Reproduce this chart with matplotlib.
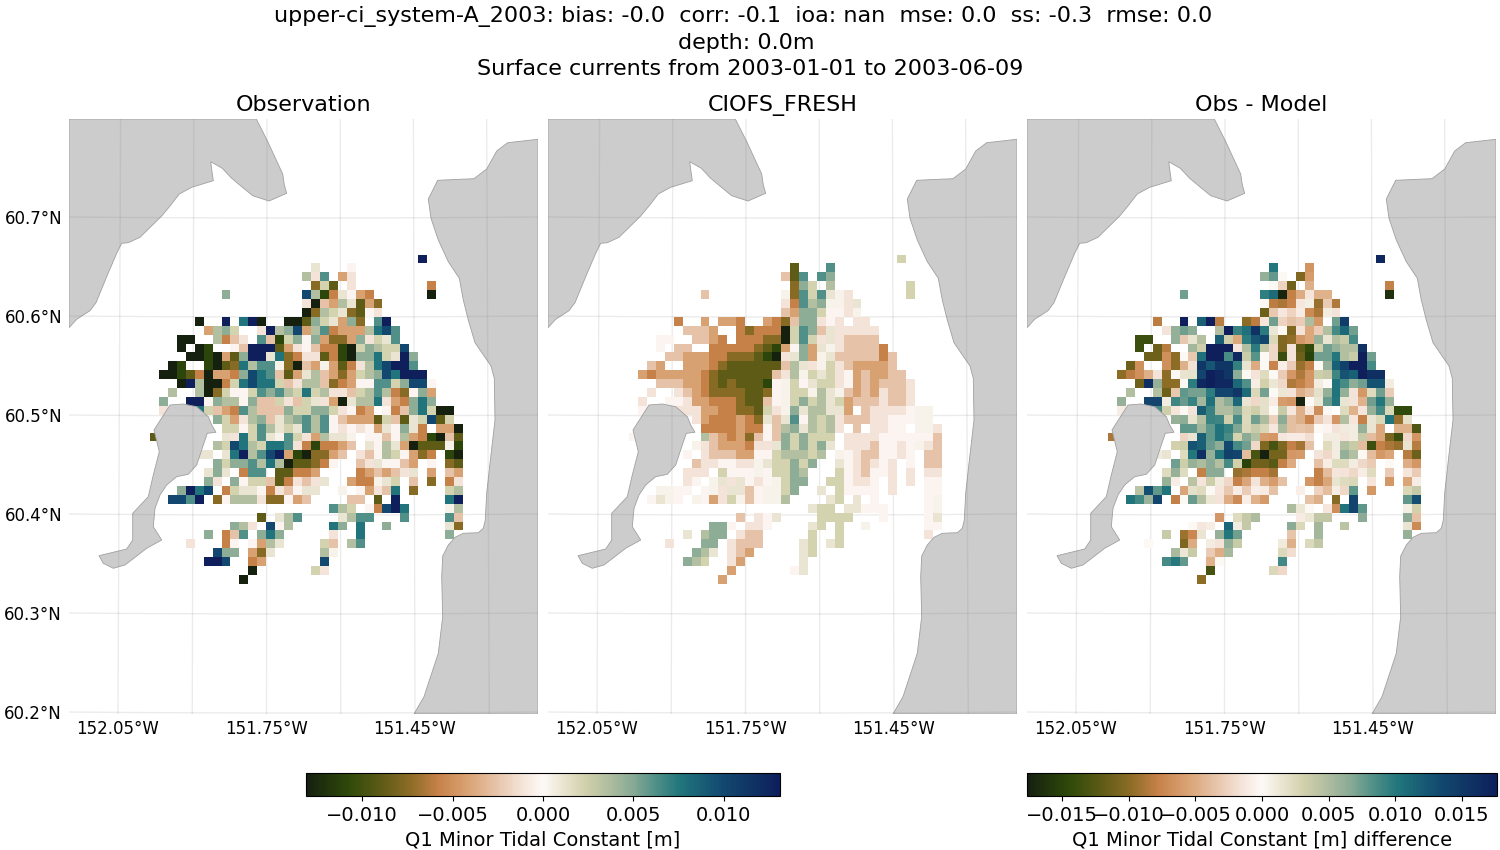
import numpy as np
import matplotlib
matplotlib.use("Agg")
import matplotlib.pyplot as plt
from matplotlib.colors import LinearSegmentedColormap, Normalize
from matplotlib.cm import ScalarMappable
from matplotlib.patches import Polygon

# value of each letter code in the grids below, in metres
LEVELS = {
    'Z': -0.0175, 'A': -0.0140, 'B': -0.0110, 'C': -0.0090, 'D': -0.0075, 'E': -0.0058,
    'F': -0.0042, 'G': -0.0026, 'H': -0.0012, 'I': -0.0003,
    'i': 0.0004, 'h': 0.0011, 'g': 0.0022, 'f': 0.0035, 'e': 0.0048,
    'd': 0.0062, 'c': 0.0076, 'b': 0.0100, 'a': 0.0135, 'z': 0.0190,
}

OBS_ROWS = [
    "..... ..... ..... ..... ..... ..... z....",
    "..... ..... ..... ...h. ..I.. ..... .....",
    "..... ..... ..... ..fHd .FH.. ..... .....",
    "..... ..... ..... ...Dg C.H.. ..... .E...",
    "..... ...e. ..... ..bfB EhIFE ..... .A...",
    "..... ..... ..... ..HAG FfhCF D.... .....",
    "..... ..... ..... ..ADf ghDCI H.... .....",
    "..... A..a. caA.. AACeg hFeD. da... .....",
    "..... .Ffeg ..Haf ebFfd EFFFf cbd.. .....",
    "...AA ..fEG H.dGB geIeF DDFeH ghd.. .....",
    "...A. AB..I GaaaC FHIGE EBAge fggb. .....",
    "....A ABAFC eaahc DEHHC EBAee cghae .....",
    "..AB. .BACD cfddi DAGFi FCEHf cbaad .....",
    ".AABC EAFFE ebcdG CFhfG FDFgf ebcaa a....",
    "...Aa fAAEg cbccg GHffG DEFII ddgeb bI...",
    "..f.. fADgI Igded fgcgf HHGgf dfEDI eF...",
    ".e..a aIeff IeGGg HGghH FAhff cHFEe ce...",
    ".H... cgGFE dfGGG eggee gHIEF .IEGe cgAA.",
    "..... ..egF HfeGh fedfd IGFFF CgGCh gbCg.",
    "..... ...gg Igdfh ghdfd IHIHI FhIeh E.FFA",
    "C.... ...hH cgdhi dgHFf hhi.I IGIfF EBAGC",
    "..... ..fgb cfgcc dHEBE EFG.h IfhFA CCCiB",
    "..... hh.hc afdba FBADD FG.HG IfgIF DE.BA",
    "..... ..ege edfcf ACCDE I..GH hIIGF .I.DC",
    "..... .heh. Edd.C CEEF. ...EF GFGHh .F.GF",
    "..... .eH.e IggGC EHGHh ..FEE ihg.G .D.EH",
    "...ea cb.Eg hhIEH GIhh. .i.IF HGc.D ...gf",
    "..bbd a.DIf ffHDD IFG.. ..GG. C.a.. ...ca",
    "..... ..... ..... ..... dfg.I Ebac. ...if",
    "..... ..... ..C.h fd... .hfdd ...d. ...dG",
    "..... ....e fH.bI f.... ce.c. .e... ...hD",
    "..... .e.EG d.ece ..... H..c. ..... ...e.",
    "....H ...EI .IFfh ....g G.fd. ..... .....",
    "..... ..bee .FDh. ....f i.... ..... .....",
    "..... .aab. .EF.. ....b ..... ..... .....",
    "..... ..... .Z... ...gH ..... ..... .....",
    "..... ..... A.... ..... ..... ..... .....",
]

MODEL_ROWS = [
    "..... ..... ..... ..... ..... ..... g....",
    "..... ..... ..... ...C. ..d.. ..... .....",
    "..... ..... ..... ..GCd .de.. ..... .....",
    "..... ..... ..... ...De g.f.. ..... .g...",
    "..... ...G. ..... ..iDd gdhiH ..... .g...",
    "..... ..... ..... ..HEd feiiH h.... .....",
    "..... ..... ..... ..GFe egIIH i.... .....",
    "..... E..F. FFE.. FEDGe eHIH. HH... .....",
    "..... .GGGF ..EDE EEAgd eGhHH HHH.. .....",
    "...II ..GGF E.EEE DDAgd gHhHG GGG.. .....",
    "...I. GG..E EEEED CBFIe FhiHG GGGE. .....",
    "....G GFFFE EDDDC BAHhe FihGG GGGEG .....",
    "..GF. .FFFE DCCCC CCGfh HigHG FFFFG .....",
    ".FEFF FFFED CCCCC CGHfi ghgHI FGFFG G....",
    "...GG GFFED CDCCC BIigI hggHI FGFGG GH...",
    "..H.. HGFED DDDCC DIigg ifhiG FGFHG GH...",
    ".H..I IHFFE EEDCC GIige gfhgF GGGHG GH...",
    ".I... HHHFF EEDDC gHieh ffhhF .GHHH HIii.",
    "..... ..HFE EEFED hGhdI fgfHG GGHHI IIii.",
    "..... ...EE EEFEE IGfeh fgfH. G.HHI I.iiH",
    "I.... ...fG FEFDG IGege ggg.H HHHII IIIIG",
    "..... ..iHG FFFEH Hhege geh.H HHGII HIiHG",
    "..... .I.HG GGFFI Igfff gf.iI HGGII HI.GG",
    "..... ..GHH IIHHi hggeg e..hI HGHIH .I.GG",
    "..... .HHH. gIIIi Iggef ...gI HGIIH .H.HH",
    "..... .HI.i hHhIH Iigee ..ggI HHI.H .H.II",
    "...ii II.Ii HhhGI iige. .h.gI III.H ...II",
    "..Ihi I.iIF HgiGI iif.. ..hg. h.I.. ...Ii",
    "..... ..... ..... ..... hgg.h hIII. ...Ii",
    "..... ..... ..G.H Ih... .gggg ...I. ...Ih",
    "..... ....e eI.HH I.... hg.g. .i... ...II",
    "..... .h.fe e.HGG ..... g..g. ..... ...H.",
    "....H ...ee .HGGG ....h g.hg. ..... .....",
    "..... ..efh .HGF. ....h g.... ..... .....",
    "..... .efg. .HF.. ....h ..... ..... .....",
    "..... ..... .F... ...Ih ..... ..... .....",
    "..... ..... F.... ..... ..... ..... .....",
]

# coast outlines, measured in pixels of the left panel
COAST_NW = [(69, 119), (256.3, 119), (267.3, 140.7), (282.7, 174), (284.3, 185), (286.7, 193.3),
            (269, 201), (252.7, 195.7), (241.7, 186.7), (231.7, 178.3), (222.3, 168.3), (210.7, 161.7),
            (212, 171.7), (213.3, 180.7), (191.7, 187.3), (179.3, 194), (170, 206), (161.7, 216),
            (140, 237.3), (128.3, 242.7), (121.7, 243.3), (116.7, 253.3), (106.7, 276.7), (96, 302.7),
            (90, 310.7), (76.7, 319.3), (69, 327.7)]
COAST_E = [(538, 139.3), (507.7, 142.7), (496.7, 151), (486.7, 169), (474, 178.7), (460, 179.3),
           (437.7, 180.3), (428.3, 199), (431, 218.3), (438.3, 240), (448.3, 261.7), (459.3, 278.3),
           (463.3, 300), (468.3, 320), (475, 342.7), (491, 366), (494.3, 378.3), (495, 420),
           (490, 463.3), (486.7, 493), (485.3, 520), (483.3, 528.3), (478.3, 532.7), (463.3, 533.3),
           (455, 537.3), (448.3, 545), (442.7, 556), (441.7, 576.7), (442.7, 616.7), (438.3, 653.3),
           (424, 696.7), (414, 714), (538, 714)]
COAST_ISLAND = [(170, 405), (183.3, 404), (196.7, 406.7), (208.3, 416.7), (211.7, 425), (216, 432.3),
                (207.3, 433.3), (203.3, 445), (196.7, 465), (188.3, 474.3), (176.7, 476.7), (166.7, 485),
                (160, 495), (155, 508.3), (153.3, 526.7), (161.7, 540), (146.7, 548.3), (125, 565),
                (113.3, 568.3), (103.3, 563.3), (99, 555.7), (126.7, 549), (132.7, 540), (132.7, 513.3),
                (148.3, 496.7), (153.3, 475), (159.3, 451.7), (154, 430)]

LON_TICKS = [-152.05, -151.75, -151.45]
LON_TICK_LABELS = ["152.05°W", "151.75°W", "151.45°W"]
LON_GRID = [-152.05, -151.90, -151.75, -151.60, -151.45, -151.30]
LAT_TICKS = [60.2, 60.3, 60.4, 60.5, 60.6, 60.7]
LAT_TICK_LABELS = ["60.2°N", "60.3°N", "60.4°N", "60.5°N", "60.6°N", "60.7°N"]

VMAX = 0.0131
VMAX_DIFF = 0.01766

cmap = LinearSegmentedColormap.from_list("tarn_like", [
    (0.00, "#15200f"), (0.09, "#2f4a0a"), (0.16, "#5f5c17"), (0.22, "#8d6c26"),
    (0.28, "#c8824a"), (0.34, "#d9a273"), (0.40, "#e6c3a8"), (0.46, "#f5e6dc"),
    (0.50, "#fdf9f6"), (0.54, "#ebe6d3"), (0.59, "#d1d0ab"), (0.64, "#afbda0"),
    (0.69, "#88aa95"), (0.74, "#4e8f87"), (0.79, "#21757c"), (0.88, "#12496f"),
    (1.00, "#0e1f5b"),
])


def decode(rows):
    out = []
    for r in rows:
        r = r.replace(" ", "")
        out.append([LEVELS.get(ch, np.nan) for ch in r])
    return np.array(out)


def px_lon(x):
    return -152.05 + (x - 118) / 495.0


def py_lat(y):
    return 60.2 + (712 - y) / 990.0


def to_lonlat(points):
    return [(px_lon(x), py_lat(y)) for x, y in points]


obs = decode(OBS_ROWS)
model = decode(MODEL_ROWS)
diff = obs - np.nan_to_num(model)

lon_edges = px_lon(150 + 8.94 * np.arange(obs.shape[1] + 1))
lat_edges = py_lat(254.5 + 8.9 * np.arange(obs.shape[0] + 1))

fig = plt.figure(figsize=(15, 8.5), dpi=100)
panels = [(69, obs, "Observation", VMAX), (548, model, "CIOFS_FRESH", VMAX), (1027, diff, "Obs - Model", VMAX_DIFF)]

for i, (left, data, title, vmax) in enumerate(panels):
    ax = fig.add_axes([left / 1500, (850 - 714) / 850, 469 / 1500, 595 / 850])
    ax.set_xlim(px_lon(69), px_lon(538))
    ax.set_ylim(py_lat(714), py_lat(119))
    for s in ax.spines.values():
        s.set_visible(False)

    ax.pcolormesh(lon_edges, lat_edges, np.ma.masked_invalid(data), cmap=cmap, vmin=-vmax, vmax=vmax, zorder=2)

    lands = []
    for coast in (COAST_NW, COAST_E, COAST_ISLAND):
        p = Polygon(to_lonlat(coast), closed=True, facecolor="#cccccc", edgecolor="#a0a0a0", lw=0.6, zorder=3)
        ax.add_patch(p)
        lands.append(p)

    # faint graticule, slightly converging to the north
    xx = np.linspace(px_lon(69), px_lon(538), 30)
    yy = np.linspace(py_lat(714), py_lat(119), 2)
    grid_lines = []
    for lon in LON_GRID:
        top = lon + (px_lon(303) - lon) * 0.014
        grid_lines.append(([lon, top], yy))
    for lat in LAT_TICKS:
        bow = (1 - ((xx - px_lon(303)) / (234 / 495.0)) ** 2) * (1 / 990.0)
        grid_lines.append((xx, lat - bow))
    for gx, gy in grid_lines:
        ax.plot(gx, gy, color="black", lw=1.0, alpha=0.08, zorder=1)
        for p in lands:
            ln, = ax.plot(gx, gy, color="black", lw=1.0, alpha=0.06, zorder=4)
            ln.set_clip_path(p)

    ax.set_xticks(LON_TICKS)
    ax.set_xticklabels(LON_TICK_LABELS, fontsize=12)
    ax.set_yticks(LAT_TICKS)
    ax.set_yticklabels(LAT_TICK_LABELS if i == 0 else [], fontsize=12)
    ax.tick_params(axis="x", length=0, pad=4)
    ax.tick_params(axis="y", length=0, pad=5)
    ax.set_title(title, fontsize=16, pad=6)

# trailing spaces keep the first two lines a little left of centre, like the source title
fig.text(0.5, 0.9925, "upper-ci_system-A_2003: bias: -0.0  corr: -0.1  ioa: nan  mse: 0.0  ss: -0.3  rmse: 0.0  \n"
         "depth: 0.0m \nSurface currents from 2003-01-01 to 2003-06-09", ha="center", va="top", fontsize=16,
         linespacing=1.36)

cax1 = fig.add_axes([306 / 1500, (850 - 796) / 850, 474 / 1500, 23 / 850])
cb1 = fig.colorbar(ScalarMappable(Normalize(-VMAX, VMAX), cmap), cax=cax1, orientation="horizontal")
cb1.set_ticks([-0.010, -0.005, 0.0, 0.005, 0.010])
cb1.ax.tick_params(labelsize=14)
cb1.set_label("Q1 Minor Tidal Constant [m]", fontsize=14, labelpad=4)

cax2 = fig.add_axes([1027 / 1500, (850 - 796) / 850, 470 / 1500, 23 / 850])
cb2 = fig.colorbar(ScalarMappable(Normalize(-VMAX_DIFF, VMAX_DIFF), cmap), cax=cax2, orientation="horizontal")
cb2.set_ticks([-0.015, -0.010, -0.005, 0.0, 0.005, 0.010, 0.015])
cb2.ax.tick_params(labelsize=14)
cb2.set_label("Q1 Minor Tidal Constant [m] difference", fontsize=14, labelpad=4)

fig.savefig("out.png", dpi=100)
